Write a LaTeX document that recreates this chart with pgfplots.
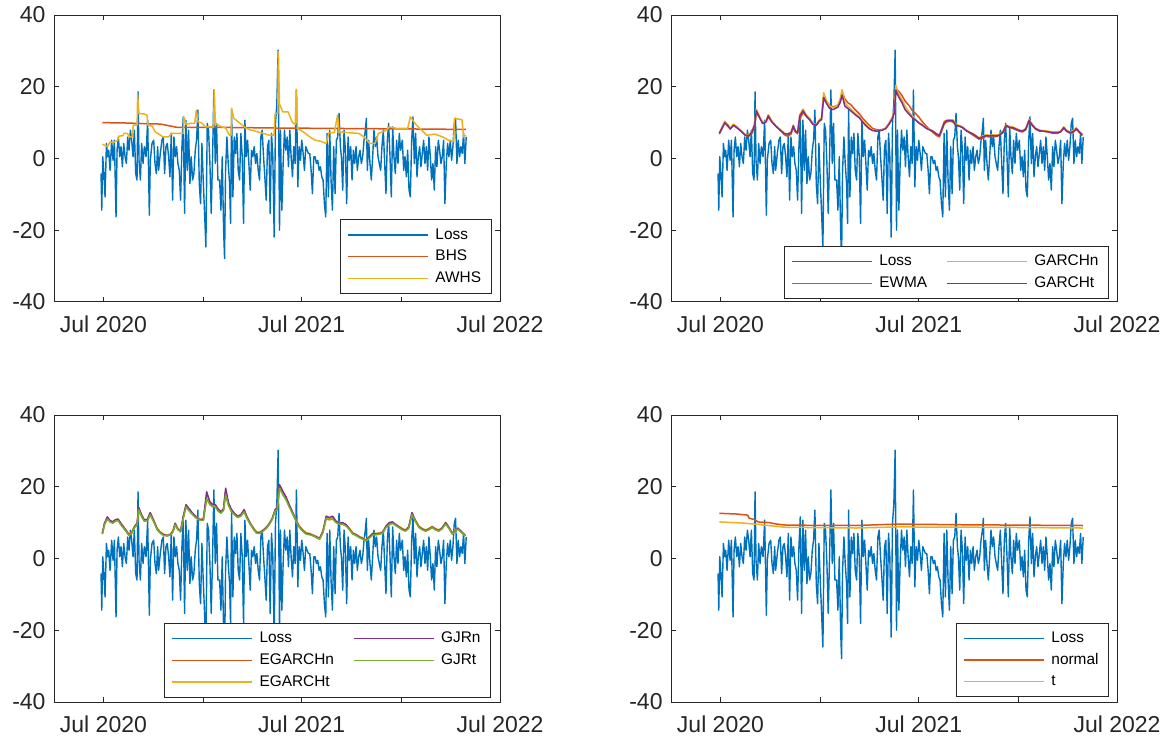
\documentclass[border=0pt]{standalone}
\usepackage{fontspec}
\setmainfont{Liberation Sans}
\usepackage{pgfplots}
\usepackage{pgfplotstable}
\pgfplotsset{compat=1.18}
\definecolor{mblue}{rgb}{0,0.447,0.741}
\definecolor{mred}{rgb}{0.85,0.325,0.098}
\definecolor{myel}{rgb}{0.929,0.694,0.125}
\definecolor{mpur}{rgb}{0.494,0.184,0.556}
\definecolor{mgrn}{rgb}{0.466,0.674,0.188}
\definecolor{axc}{rgb}{0.15,0.15,0.15}

% Loss series: days since 1 Jul 2020, loss
\pgfplotstableread{
d v
-4.4 -4.2
-3.1 -14.4
-1.3 0.5
0.5 -3.3
3.0 -10.7
5.5 4.2
7.9 0.5
9.7 2.3
12.2 -3.3
15.2 5.1
17.7 -0.5
20.2 5.1
23.2 -16.3
25.1 2.3
27.5 6.0
30.0 0.5
32.4 3.3
34.9 -2.3
37.3 4.2
39.8 0.5
42.2 -1.4
44.7 6.0
47.1 2.3
49.6 7.9
52.0 5.1
54.5 0.5
56.9 7.9
59.4 -4.2
61.8 -6.0
63.7 18.6
65.5 -0.5
68.0 -6.0
70.4 4.2
72.9 -1.4
75.3 3.3
78.4 0.5
81.4 10.7
84.5 -15.8
86.3 -0.5
89.4 4.2
92.5 5.1
94.9 -1.4
97.4 -4.2
99.8 3.3
101.6 -3.3
104.7 1.4
107.7 5.1
110.2 6.0
112.6 -4.2
115.1 3.3
117.5 4.2
120.0 0.5
122.4 -5.1
124.9 7.0
127.3 -11.6
129.8 6.0
132.2 0.5
134.7 3.3
137.1 -1.4
139.6 -3.3
142.0 -11.6
144.5 3.3
146.9 11.6
149.4 -15.3
151.8 10.7
154.3 -3.3
156.7 7.9
159.2 -7.0
161.6 0.5
164.1 -6.0
166.5 -4.2
169.0 2.3
171.4 5.1
173.9 13.5
176.4 -7.0
178.8 -12.6
181.3 4.2
183.7 -6.0
186.2 -15.3
188.6 -24.7
191.1 9.8
193.5 7.9
196.0 -1.4
198.4 -15.3
200.9 0.5
203.3 19.1
205.8 -1.4
208.2 9.8
210.7 -6.0
213.8 -6.0
216.3 -14.4
218.7 0.5
221.2 -20.0
223.0 -27.9
224.8 -3.3
227.3 6.0
229.7 -1.4
232.2 -7.0
234.0 -18.1
235.9 13.5
238.3 -10.7
240.8 6.0
243.2 1.4
245.7 7.0
248.1 -3.3
250.6 -6.0
253.0 7.0
255.5 0.5
257.9 -18.1
260.4 10.7
262.8 0.5
265.3 5.1
267.7 -1.4
270.2 -8.8
272.6 2.3
275.1 0.5
277.5 3.3
280.0 -1.4
282.4 1.4
284.9 -3.3
287.3 -6.0
289.8 6.0
292.2 7.9
294.7 0.5
297.1 -5.1
299.6 -11.6
302.0 3.3
304.5 5.1
306.9 -15.3
309.4 7.0
311.8 0.5
314.3 -21.9
316.7 9.8
319.2 15.3
321.6 30.2
324.1 -20.0
325.9 7.9
328.4 -14.4
330.8 -1.4
333.3 7.9
335.7 2.3
338.2 6.0
340.6 -2.3
343.1 7.9
345.5 0.5
348.0 -5.1
350.4 3.3
352.9 -1.4
355.3 19.1
357.8 -7.9
360.2 3.3
362.7 -0.5
365.1 5.1
367.6 1.4
370.0 -3.3
372.5 3.3
374.9 2.3
377.4 1.4
379.8 1.4
382.3 -3.3
384.7 -9.8
387.2 0.5
389.6 0.5
392.1 -1.4
394.5 -0.5
397.0 -3.3
399.4 -2.3
401.9 -5.1
404.3 -6.0
406.8 -12.6
409.2 -16.3
411.7 7.0
414.1 -10.7
416.6 7.9
419.0 -6.0
421.5 -14.4
423.9 3.3
426.4 -9.8
428.8 5.1
431.3 6.0
433.7 12.6
436.2 3.3
438.0 0.5
440.5 -8.8
442.9 7.9
445.4 2.3
447.8 -12.6
450.3 6.0
452.7 -0.5
455.2 3.3
457.6 -6.0
460.1 2.3
462.5 -1.4
465.0 3.3
467.4 -3.3
469.9 0.5
472.3 2.3
474.8 -1.4
477.2 0.5
479.7 5.1
482.1 7.9
484.0 11.2
485.8 -3.3
488.2 5.1
490.7 -1.4
493.1 -6.0
495.6 0.5
498.0 7.9
500.5 3.3
502.9 6.0
505.4 0.5
507.8 -1.4
510.3 -3.3
512.7 3.3
515.2 7.9
517.7 -1.4
520.1 -9.8
522.6 5.1
525.0 9.8
527.5 0.5
529.9 -10.7
532.4 8.8
534.8 0.5
537.3 -4.2
539.7 5.1
542.2 -1.4
544.6 7.0
547.1 2.3
550.2 5.1
552.7 -3.3
555.1 0.5
557.6 -5.1
560.0 2.3
562.5 -8.8
564.9 -10.7
567.4 5.1
569.8 11.6
572.3 -1.4
574.7 7.0
577.2 -5.1
579.6 0.5
582.1 3.3
584.5 -2.3
587.0 1.4
589.4 5.1
591.9 -1.4
594.3 3.3
596.8 -3.3
599.2 6.0
601.7 0.5
604.1 -6.0
606.6 -1.4
609.0 -8.8
611.5 3.3
613.9 -2.3
616.4 5.1
618.8 2.3
621.3 -1.4
623.7 0.5
626.2 5.1
628.6 -12.6
631.1 -1.4
633.5 4.2
636.0 0.5
638.4 5.1
640.9 -0.5
643.3 3.3
645.8 9.8
648.2 11.2
650.7 -1.4
653.1 5.1
655.6 0.5
658.0 3.3
660.5 1.4
662.9 7.0
665.3 -1.4
667.8 6.0
}\losstab

\pgfplotstableread{
d v
-2 10.0
40 9.9
80 9.7
105 9.6
115 9.3
125 9.0
135 8.7
200 8.7
319 8.5
410 8.4
500 8.3
600 8.2
667 8.1
}\bhstab

\pgfplotstableread{
d v
-2 4.0
3 3.6
8 3.4
12 4.6
20 4.6
26 5.0
28 6.2
36 6.4
38 7.0
44 7.0
48 6.0
53 6.0
55 9.3
62 9.3
63 18.1
65 12.6
75 12.4
80 12.1
82 9.3
90 9.0
95 7.5
100 7.0
110 6.0
120 6.0
125 7.0
147 7.0
148 11.6
152 9.5
160 9.8
168 9.8
171 13.5
174 10.2
180 10.0
188 8.8
203 8.8
204 19.1
206 9.8
215 9.0
225 8.5
232 6.5
235 6.5
236 14.0
240 11.2
250 10.0
262 8.5
270 8.0
290 7.2
305 6.5
314 6.5
316 12.6
321 12.6
322 29.8
324 15.3
330 13.0
340 13.0
348 10.0
353 9.5
355 19.3
357 8.4
370 7.2
380 6.0
390 5.1
400 4.8
410 4.2
415 7.2
425 7.2
431 12.1
434 7.2
440 7.4
450 7.2
470 7.0
480 6.0
490 4.2
500 4.2
506 7.0
520 7.8
526 8.8
540 8.4
560 8.4
565 11.6
575 9.5
585 8.0
595 6.5
610 6.8
625 6.0
635 5.1
645 4.7
646 11.2
660 10.8
663 6.0
667 6.5
}\awhstab

\pgfplotstableread{
d ewma garchn garcht
-2 6.8 7.2 7.0
3 8.4 8.8 8.5
8 9.9 10.4 10.0
14 8.9 9.4 9.1
18 8.3 8.4 8.2
24 9.3 9.6 9.3
30 8.7 8.9 8.6
38 7.6 7.8 7.6
46 6.4 6.6 6.5
52 6.2 6.5 6.3
58 7.0 7.6 7.4
63 9.0 9.8 9.4
66 12.8 13.8 13.3
72 11.4 11.8 11.4
78 9.8 10.0 9.7
84 10.2 10.5 10.3
88 11.6 12.2 11.9
94 10.4 10.6 10.3
102 9.0 9.2 9.0
110 7.9 8.1 7.9
118 6.6 7.0 6.9
124 6.2 6.9 6.8
130 6.8 7.3 7.2
134 8.6 9.3 9.1
138 7.4 7.8 7.6
142 6.9 7.4 7.2
146 10.8 12.2 11.8
152 12.8 13.8 13.3
158 11.8 12.2 11.8
164 10.8 11.2 10.9
170 9.6 9.9 9.6
176 9.2 9.4 9.2
182 10.4 10.8 10.5
186 10.8 11.2 10.9
190 17.4 18.4 17.0
195 16.0 16.2 15.4
201 14.8 14.6 14.0
207 14.4 14.2 13.6
212 14.6 14.4 14.0
216 14.8 15.0 14.3
220 15.6 16.4 15.5
224 18.6 19.2 17.6
229 16.6 15.6 14.6
234 15.6 14.6 14.0
240 15.0 13.8 13.3
248 13.6 12.6 12.2
256 12.4 11.6 11.3
262 11.2 10.4 10.1
268 10.2 9.4 9.1
274 9.3 8.6 8.3
280 8.4 7.9 7.8
288 8.0 7.7 7.6
296 8.0 7.9 7.8
304 8.4 8.5 8.3
310 9.6 9.8 9.5
316 11.0 11.4 11.0
320 12.8 13.4 12.8
323 19.4 20.4 19.0
328 18.8 18.0 17.2
334 17.6 16.4 15.6
340 16.0 14.6 13.6
347 14.8 13.0 12.4
353 13.4 11.9 11.4
360 12.4 10.8 10.6
366 11.4 10.0 9.8
372 10.2 9.4 9.2
380 8.8 8.4 8.3
390 7.4 7.8 7.7
398 6.4 6.9 6.8
403 6.0 6.5 6.4
407 7.6 8.2 8.0
412 9.6 10.4 10.0
416 10.2 10.7 10.5
422 10.4 10.8 10.6
428 10.2 10.8 10.5
433 9.4 9.6 9.3
440 9.0 9.2 9.0
446 8.6 8.8 8.6
452 7.8 8.0 7.8
458 7.2 7.4 7.3
464 6.6 7.0 6.9
470 6.0 6.4 6.3
476 5.4 5.8 5.6
482 5.6 6.2 6.0
489 6.2 6.6 6.4
495 6.0 6.5 6.3
501 6.2 6.6 6.4
507 6.1 6.5 6.3
513 6.4 6.7 6.5
520 7.2 7.6 7.4
526 9.0 9.4 9.2
532 8.6 8.9 8.7
538 8.4 8.8 8.6
544 8.0 8.4 8.2
550 7.6 8.0 7.8
556 7.4 7.8 7.6
562 8.0 8.4 8.2
568 10.4 10.9 10.6
574 9.2 9.6 9.3
580 8.2 8.5 8.3
588 7.6 7.9 7.7
596 7.6 7.8 7.6
604 7.4 7.6 7.4
612 7.0 7.4 7.2
620 7.0 7.4 7.2
626 7.4 7.6 7.4
632 8.4 8.8 8.6
637 7.6 7.9 7.7
644 7.0 7.4 7.2
650 7.4 7.8 7.5
655 8.2 8.6 8.3
660 7.4 7.7 7.5
666 6.4 6.8 6.6
}\garchtab

\pgfplotstableread{
d egn egt gjrn gjrt
-2 7.0 7.2 7.0 6.8
2 9.6 9.8 9.8 9.4
7 11.2 11.4 11.6 11.0
12 10.4 10.6 10.6 10.2
17 10.0 10.2 10.2 9.8
22 10.6 10.8 10.8 10.4
27 10.6 10.8 11.0 10.6
33 9.4 9.6 9.6 9.2
40 8.0 8.2 8.2 7.9
47 6.6 6.8 6.6 6.4
52 7.2 7.4 7.2 7.0
57 8.8 9.0 8.8 8.6
62 9.6 9.8 9.8 9.4
65 13.6 14.0 14.2 13.6
70 12.0 12.2 12.2 11.8
75 10.6 10.8 10.8 10.4
81 10.6 10.8 10.9 10.5
86 12.4 12.6 12.8 12.2
92 10.6 10.8 10.8 10.4
99 8.2 8.4 8.2 8.0
105 7.2 7.4 7.2 7.0
111 6.6 6.8 6.6 6.4
117 6.4 6.6 6.4 6.3
123 6.6 6.8 6.6 6.5
128 7.6 7.8 7.6 7.4
132 9.6 9.8 9.8 9.4
137 8.2 8.4 8.2 8.0
142 7.6 7.8 7.6 7.4
147 11.4 11.6 11.8 11.2
152 14.6 14.8 15.0 14.4
158 13.6 13.8 13.8 13.2
163 12.6 12.8 12.8 12.4
168 11.8 12.0 12.0 11.6
173 11.2 11.4 11.2 11.0
178 10.8 11.0 10.8 10.6
184 10.8 11.0 11.0 10.6
190 17.4 17.2 18.6 16.6
196 15.4 15.6 15.8 15.0
201 14.6 14.8 15.0 14.4
206 14.6 14.8 15.0 14.4
211 13.6 13.8 13.8 13.2
216 12.8 13.0 13.0 12.6
221 13.6 13.8 13.8 13.4
225 18.6 18.4 19.6 17.8
230 15.2 15.4 15.6 14.8
235 13.6 13.8 13.8 13.2
241 12.4 12.6 12.6 12.2
247 11.6 11.8 11.8 11.4
253 12.0 12.2 12.2 11.8
259 13.4 13.6 13.6 13.0
264 11.6 11.8 11.6 11.2
270 9.8 10.0 9.8 9.6
276 8.4 8.6 8.4 8.2
282 7.2 7.4 7.2 7.0
288 7.2 7.4 7.2 7.0
294 7.8 8.0 7.8 7.6
300 8.6 8.8 8.6 8.4
306 9.8 10.0 9.8 9.6
311 11.2 11.4 11.2 11.0
316 13.4 13.6 13.6 13.2
320 13.8 14.0 14.2 13.6
324 20.2 19.8 20.6 19.6
330 18.4 18.4 18.8 17.8
336 16.8 16.8 17.2 16.4
342 14.6 14.8 15.0 14.4
349 12.4 12.6 12.6 12.2
355 10.4 10.6 10.4 10.2
361 8.8 9.0 8.8 8.6
367 7.8 8.0 7.8 7.6
373 7.0 7.2 7.0 6.8
380 6.8 7.0 6.8 6.6
386 6.4 6.6 6.4 6.3
392 6.0 6.2 6.0 5.8
398 5.4 5.6 5.6 5.4
404 7.4 7.6 7.6 7.2
410 11.2 11.4 11.8 11.2
416 10.8 11.0 11.4 10.8
422 11.2 11.4 11.8 11.0
428 10.2 10.4 10.4 10.0
434 9.8 10.0 9.8 9.6
440 9.8 10.0 10.0 9.6
447 9.2 9.4 9.4 9.0
453 8.2 8.4 8.2 8.0
459 7.0 7.2 7.0 6.8
465 6.6 6.8 6.6 6.4
471 6.0 6.2 6.0 5.8
477 5.6 5.8 5.6 5.4
483 5.0 5.2 5.0 4.9
489 5.8 6.0 6.0 5.6
496 6.8 7.0 7.0 6.6
502 6.8 7.0 6.8 6.6
508 7.0 7.2 7.0 6.8
514 7.2 7.4 7.2 7.0
520 8.8 9.0 9.0 8.6
526 9.6 9.8 10.0 9.4
532 10.0 10.2 10.2 9.8
538 9.4 9.6 9.4 9.2
544 8.8 9.0 8.8 8.6
550 8.2 8.4 8.2 8.0
556 7.8 8.0 7.8 7.6
562 8.6 8.8 8.8 8.4
568 12.4 12.6 12.8 12.2
574 10.6 10.8 10.6 10.4
581 8.8 9.0 8.8 8.6
587 8.2 8.4 8.2 8.0
593 7.8 8.0 7.8 7.6
599 8.2 8.4 8.2 8.0
605 8.8 9.0 8.8 8.6
611 8.2 8.4 8.2 8.0
617 7.8 8.0 7.8 7.6
623 8.4 8.6 8.4 8.2
630 9.8 10.0 10.0 9.6
636 8.6 8.8 8.6 8.4
642 7.0 7.2 7.0 6.8
647 7.6 7.8 7.6 7.4
652 8.4 8.6 8.4 8.2
658 7.6 7.8 7.6 7.4
666 6.4 6.6 6.4 6.2
}\egtab

\pgfplotstableread{
d v
-2 12.6
30 12.4
50 12.1
53 11.2
62 10.9
69 10.2
90 10.0
103 9.6
121 9.3
250 9.2
325 9.6
450 9.4
667 9.2
}\normtab

\pgfplotstableread{
d v
-2 10.2
40 9.9
70 9.5
100 9.0
121 8.7
250 8.5
325 8.8
500 8.7
667 8.5
}\ttab

\pgfplotsset{
  mystyle/.style={
    scale only axis, width=223pt, height=143.5pt,
    xmin=-91, xmax=730, ymin=-40, ymax=40,
    xtick={0,184,365,549,730},
    xticklabels={Jul 2020,,Jul 2021,,Jul 2022},
    ytick={-40,-20,0,20,40},
    tick align=inside, major tick length=2.5pt,
    axis line style={axc, line width=0.5pt},
    every tick/.style={axc, line width=0.5pt},
    ticklabel style={font=\fontsize{11.5}{13}\selectfont, text=axc},
    /pgf/number format/assume math mode=true,
    xticklabel style={yshift=-3.5pt},
    yticklabel style={xshift=-0.7pt},
    legend cell align=left,
    legend style={font=\fontsize{7.7}{9}\selectfont, draw=axc, line width=0.5pt,
      fill=white, inner xsep=3.5pt, inner ysep=2.2pt, column sep=1.8pt,
      nodes={inner xsep=1.5pt, inner ysep=1.5pt, text height=6pt, text depth=1.8pt},
      /tikz/every even column/.append style={column sep=8pt}},
    legend image code/.code={\draw[#1] (0pt,0pt) -- (40pt,0pt);},
    every axis plot/.append style={line width=0.75pt, line join=round},
  }
}

\begin{document}
\begin{tikzpicture}
\useasboundingbox (0,0) rectangle (588pt,372.5pt);

% top-left
\begin{axis}[mystyle, at={(27pt,221.5pt)}, anchor=south west,
  legend style={at={(1,0)}, anchor=south east, xshift=-4.2pt, yshift=4pt}]
\addplot[mblue, line width=0.7pt] table[x=d,y=v] {\losstab};
\addlegendentry{Loss}
\addplot[mred] table[x=d,y=v] {\bhstab};
\addlegendentry{BHS}
\addplot[myel] table[x=d,y=v] {\awhstab};
\addlegendentry{AWHS}
\end{axis}

% top-right
\begin{axis}[mystyle, at={(335.5pt,221.5pt)}, anchor=south west, legend columns=2,
  legend style={at={(1,0)}, anchor=south east, xshift=-4pt, yshift=1.5pt}]
\addplot[mblue, line width=0.7pt, forget plot] table[x=d,y=v] {\losstab};
\addplot[mred, forget plot] table[x=d,y=ewma] {\garchtab};
\addplot[myel, forget plot] table[x=d,y=garchn] {\garchtab};
\addplot[mpur, forget plot] table[x=d,y=garcht] {\garchtab};
\addlegendimage{mblue, line width=0.75pt}\addlegendentry{Loss}
\addlegendimage{myel, line width=0.75pt}\addlegendentry{GARCHn}
\addlegendimage{mred, line width=0.75pt}\addlegendentry{EWMA}
\addlegendimage{mpur, line width=0.75pt}\addlegendentry{GARCHt}
\end{axis}

% bottom-left
\begin{axis}[mystyle, at={(27pt,21.5pt)}, anchor=south west, legend columns=2,
  legend style={at={(1,0)}, anchor=south east, xshift=-4.5pt, yshift=2.2pt}]
\addplot[mblue, line width=0.7pt, forget plot] table[x=d,y=v] {\losstab};
\addplot[mred, forget plot] table[x=d,y=egn] {\egtab};
\addplot[myel, forget plot] table[x=d,y=egt] {\egtab};
\addplot[mpur, forget plot] table[x=d,y=gjrn] {\egtab};
\addplot[mgrn, forget plot] table[x=d,y=gjrt] {\egtab};
\addlegendimage{mblue, line width=0.75pt}\addlegendentry{Loss}
\addlegendimage{mpur, line width=0.75pt}\addlegendentry{GJRn}
\addlegendimage{mred, line width=0.75pt}\addlegendentry{EGARCHn}
\addlegendimage{mgrn, line width=0.75pt}\addlegendentry{GJRt}
\addlegendimage{myel, line width=0.75pt}\addlegendentry{EGARCHt}
\end{axis}

% bottom-right
\begin{axis}[mystyle, at={(335.5pt,21.5pt)}, anchor=south west,
  legend style={at={(1,0)}, anchor=south east, xshift=-4pt, yshift=2.3pt}]
\addplot[mblue, line width=0.7pt] table[x=d,y=v] {\losstab};
\addlegendentry{Loss}
\addplot[mred] table[x=d,y=v] {\normtab};
\addlegendentry{normal}
\addplot[myel] table[x=d,y=v] {\ttab};
\addlegendentry{t}
\end{axis}
\end{tikzpicture}
\end{document}
